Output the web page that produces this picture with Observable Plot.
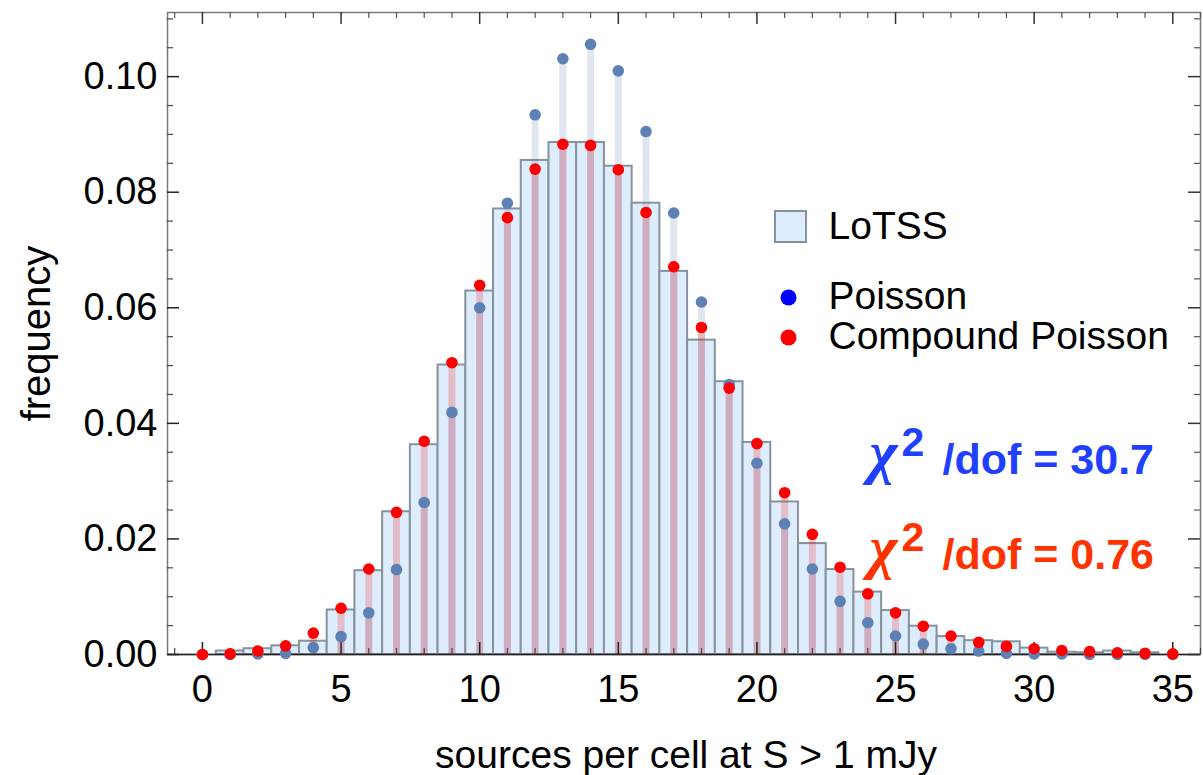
<!DOCTYPE html>
<html><head><meta charset="utf-8">
<script src="https://cdn.jsdelivr.net/npm/d3@7"></script>
<script src="https://cdn.jsdelivr.net/npm/@observablehq/plot@0.6"></script>
<style>body{margin:0;background:#fff}</style>
</head><body><div id="chart"></div>
<script>
// sources per cell
const counts   = [0,1,2,3,4,5,6,7,8,9,10,11,12,13,14,15,16,17,18,19,20,21,22,23,24,25,26,27,28,29,30,31,32,33,34,35];
// LoTSS histogram (frequency)
const lotss    = [0,0.0006,0.0010,0.0015,0.0023,0.0077,0.0145,0.0247,0.0363,0.0501,0.0629,0.0771,0.0855,0.0886,0.0886,0.0845,0.0781,0.0663,0.0544,0.0472,0.0367,0.0264,0.0192,0.0147,0.0108,0.0076,0.0049,0.0031,0.0024,0.0022,0.0011,0.0004,0.0003,0.0006,0.0003,0];
// Poisson model
const poisson  = [0,0,0.0001,0.0002,0.0012,0.0031,0.0072,0.0147,0.0263,0.0419,0.0600,0.0781,0.0934,0.1031,0.1056,0.1010,0.0905,0.0764,0.0610,0.0467,0.0331,0.0226,0.0148,0.0092,0.0055,0.0032,0.0018,0.0010,0.0006,0.0002,0.0001,0.0001,0,0,0,0];
// Compound Poisson model
const compound = [0,0.0001,0.0006,0.0015,0.0037,0.0080,0.0148,0.0246,0.0369,0.0505,0.0639,0.0756,0.0840,0.0883,0.0881,0.0839,0.0765,0.0671,0.0566,0.0461,0.0365,0.0280,0.0208,0.0151,0.0105,0.0072,0.0049,0.0032,0.0021,0.0014,0.0010,0.0007,0.0005,0.0003,0.0002,0.0001];

const xMajorTicks = [0,5,10,15,20,25,30,35];
const xMinorTicks = [-1,1,2,3,4,6,7,8,9,11,12,13,14,16,17,18,19,21,22,23,24,26,27,28,29,31,32,33,34,36];
const yMajorTicks = [0,0.02,0.04,0.06,0.08,0.10];
const yMinorTicks = [0.005,0.01,0.015,0.025,0.03,0.035,0.045,0.05,0.055,0.065,0.07,0.075,0.085,0.09,0.095,0.105,0.11];

const legendLabels = ["LoTSS","Poisson","Compound Poisson"];
const xTitle = "sources per cell at S > 1 mJy";
const yTitle = "frequency";
const chiSymbol = "χ";
const chiPower = "2";
const chiBlue = "/dof = 30.7";
const chiRed  = "/dof = 0.76";

const rows = counts.map((c,i)=>({c, lotss:lotss[i], poisson:poisson[i], compound:compound[i]}));

const W = 1203, H = 775;
const mL = 167, mT = 12, mR = 3, mB = 121;
const fw = W - mL - mR, fh = H - mT - mB;

const blueDot = "#5e81b5";
const blueText = "#1f40ff";
const redText = "#ff3300";
const fontSans = "'Liberation Sans', Arial, Helvetica, sans-serif";
const fontSerif = "'Liberation Serif', 'Times New Roman', serif";

function chiLabel(value, color, baseDy) {
  return [
    Plot.text([chiSymbol], {frameAnchor: "top-left", text: d=>d, dx: 702, dy: baseDy - 2, textAnchor: "start", lineAnchor: "bottom",
      fontFamily: fontSerif, fontStyle: "italic", fontWeight: "bold", fontSize: 60, fill: color}),
    Plot.text([chiPower], {frameAnchor: "top-left", text: d=>d, dx: 734, dy: baseDy - 18, textAnchor: "start", lineAnchor: "bottom",
      fontWeight: "bold", fontSize: 41, fill: color}),
    Plot.text([value], {frameAnchor: "top-left", text: d=>d, dx: 775, dy: baseDy, textAnchor: "start", lineAnchor: "bottom",
      fontWeight: "bold", fontSize: 43, fill: color})
  ];
}

const chart = Plot.plot({
  width: W, height: H,
  marginLeft: mL, marginTop: mT, marginRight: mR, marginBottom: mB,
  style: {fontFamily: fontSans, fontSize: "38px", background: "white", color: "black"},
  x: {domain: [-1.26, 36], label: null},
  y: {domain: [0, 0.1111], label: null},
  marks: [
    // histogram bars
    Plot.rectY(rows.filter(d=>d.lotss>0), {x1: d=>d.c-0.5, x2: d=>d.c+0.5, y1: 0, y2: "lotss",
      fill: "#ddedfd", stroke: "#86929c", strokeWidth: 2, inset: 0}),
    // filling stems
    Plot.ruleX(rows, {x: "c", y1: 0, y2: "poisson", stroke: blueDot, strokeOpacity: 0.2, strokeWidth: 7}),
    Plot.ruleX(rows, {x: "c", y1: 0, y2: "compound", stroke: "#ff0000", strokeOpacity: 0.2, strokeWidth: 7}),
    // frame
    Plot.frame({stroke: "#7a7a7a", strokeWidth: 1.5}),
    Plot.ruleY([0], {stroke: "#222", strokeWidth: 1.5}),
    // ticks
    Plot.tickX(xMajorTicks, {x: d=>d, insetTop: fh-12, stroke: "#222", strokeWidth: 1.5}),
    Plot.tickX(xMinorTicks, {x: d=>d, insetTop: fh-6, stroke: "#444", strokeWidth: 1.2}),
    Plot.tickX(xMajorTicks, {x: d=>d, insetBottom: fh-12, stroke: "#333", strokeWidth: 1.5}),
    Plot.tickX(xMinorTicks, {x: d=>d, insetBottom: fh-6, stroke: "#555", strokeWidth: 1.2}),
    Plot.tickY(yMajorTicks, {y: d=>d, insetRight: fw-12, stroke: "#222", strokeWidth: 1.5}),
    Plot.tickY(yMinorTicks, {y: d=>d, insetRight: fw-6, stroke: "#444", strokeWidth: 1.2}),
    Plot.tickY(yMajorTicks, {y: d=>d, insetLeft: fw-12, stroke: "#333", strokeWidth: 1.5}),
    Plot.tickY(yMinorTicks, {y: d=>d, insetLeft: fw-6, stroke: "#555", strokeWidth: 1.2}),
    // axes labels
    Plot.axisX({ticks: xMajorTicks, tickSize: 0, tickPadding: 21, fontSize: 38, tickFormat: d3.format("d")}),
    Plot.axisY({ticks: yMajorTicks, tickSize: 0, tickPadding: 10, fontSize: 38, tickFormat: d3.format(".2f")}),
    // dots
    Plot.dot(rows, {x: "c", y: "poisson", r: 5.8, fill: blueDot}),
    Plot.dot(rows, {x: "c", y: "compound", r: 5.8, fill: "#ff0000"}),
    // axis titles
    Plot.text([xTitle], {frameAnchor: "bottom", text: d=>d, dy: 113, dx: 2, lineAnchor: "bottom", fontSize: 39}),
    Plot.text([yTitle], {frameAnchor: "left", text: d=>d, dx: -130, dy: 0, rotate: -90, textAnchor: "middle", lineAnchor: "middle", fontSize: 40}),
    // legend
    Plot.dot([legendLabels[0]], {frameAnchor: "top-left", dx: 623, dy: 214, symbol: "square", r: 17.5, fill: "#ddedfd", stroke: "#86929c", strokeWidth: 2}),
    Plot.dot([legendLabels[1]], {frameAnchor: "top-left", dx: 621, dy: 285, r: 8, fill: "#0000ff"}),
    Plot.dot([legendLabels[2]], {frameAnchor: "top-left", dx: 621, dy: 325, r: 8, fill: "#ff0000"}),
    Plot.text([legendLabels[0]], {frameAnchor: "top-left", text: d=>d, dx: 661, dy: 226, textAnchor: "start", lineAnchor: "bottom", fontSize: 39}),
    Plot.text([legendLabels[1]], {frameAnchor: "top-left", text: d=>d, dx: 661, dy: 296, textAnchor: "start", lineAnchor: "bottom", fontSize: 39}),
    Plot.text([legendLabels[2]], {frameAnchor: "top-left", text: d=>d, dx: 661, dy: 336, textAnchor: "start", lineAnchor: "bottom", fontSize: 39}),
    // chi-square annotations
    ...chiLabel(chiBlue, blueText, 461),
    ...chiLabel(chiRed, redText, 556)
  ]
});
document.getElementById("chart").appendChild(chart);
</script>
</body></html>
